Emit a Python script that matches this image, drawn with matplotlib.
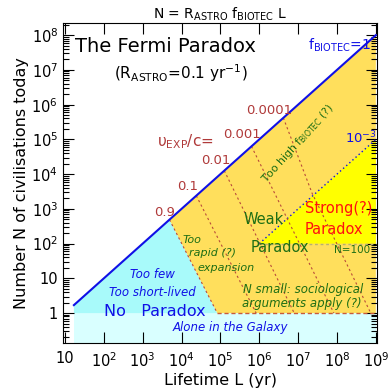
import numpy as np
import matplotlib.pyplot as plt
from matplotlib.ticker import LogLocator, NullFormatter

plt.rcParams['mathtext.default'] = 'regular'
plt.rcParams['font.family'] = 'DejaVu Sans'

# f_BIOTEC = 1 edge : N = 0.1 L
L_edge = [17.0, 1e9]
N_edge = [1.7, 1e8]

# v_exp/c contours (log10 L, log10 N)
v_labels = ['0.9', '0.1', '0.01', '0.001', '0.0001']
v_logL = [[3.69, 4.92], [4.38, 5.92], [5.10, 6.90], [5.80, 7.92], [6.62, 7.36, 8.87]]
v_logN = [[2.69, 0.0], [3.38, 0.0], [4.10, 0.0], [4.80, 0.0], [5.62, 3.45, 0.0]]

# f_BIOTEC = 1e-3 edge and N = 100 limit
L_weak = [1e6, 1e9]
N_weak = [1e2, 1e5]
N_min = 100

x_ticks = [1e1, 1e2, 1e3, 1e4, 1e5, 1e6, 1e7, 1e8, 1e9]
x_labels = ['10'] + ['$10^{%d}$' % k for k in range(2, 10)]
y_ticks = [1, 1e1, 1e2, 1e3, 1e4, 1e5, 1e6, 1e7, 1e8]
y_labels = ['1', '10'] + ['$10^{%d}$' % k for k in range(2, 9)]

c_cyan = '#A8FAFA'
c_pale = '#D9FFFF'
c_gold = '#FFDF5C'
c_yel = '#FFFF00'
c_red = '#B03A3A'
c_green = '#1E6E14'
c_blue = '#1010E6'

fig = plt.figure(figsize=(3.9, 3.91), dpi=100)
ax = fig.add_axes([63/390, 48/391, 314/390, 320/391])
ax.set_xscale('log')
ax.set_yscale('log')
ax.set_xlim(10**0.95, 10**9.03)
ax.set_ylim(10**-0.86, 10**8.35)

# regions
cL = 10**np.array(v_logL[0])
cN = 10**np.array(v_logN[0])
ax.fill_between([L_edge[0], L_edge[1]], ax.get_ylim()[0], 1, color=c_pale, lw=0, zorder=1)
ax.fill(np.r_[L_edge[0], L_edge[0], cL], np.r_[1, N_edge[0], cN], color=c_cyan, lw=0, zorder=1)
ax.fill(np.r_[cL, L_edge[1], L_edge[1]], np.r_[cN, 1, N_edge[1]], color=c_gold, lw=0, zorder=1)
ax.fill([L_weak[0], L_weak[1], L_weak[1]], [N_weak[0], N_weak[1], N_min], color=c_yel, lw=0, zorder=1)

ax.plot(L_edge, N_edge, color=c_blue, lw=1.5, zorder=4)
ax.plot(L_weak, N_weak, color=c_blue, lw=1, ls=(0, (1, 2)), zorder=3)
ax.plot([L_weak[0], L_edge[1]], [N_min, N_min], color='#B8B070', lw=1, ls=(0, (2, 2)), zorder=3)
ax.plot([cL[-1], L_edge[1]], [1, 1], color='#C85A3A', lw=1, ls=(0, (3, 2)), zorder=3)
for lx, ly in zip(v_logL, v_logN):
    ax.plot(10**np.array(lx), 10**np.array(ly), color='#B84A3A', lw=0.8, ls=(0, (2, 2.5)), zorder=3)

# axes dressing
ax.set_xticks(x_ticks)
ax.set_xticklabels(x_labels)
ax.set_yticks(y_ticks)
ax.set_yticklabels(y_labels)
ax.xaxis.set_minor_locator(LogLocator(base=10, subs=np.arange(2, 10)))
ax.yaxis.set_minor_locator(LogLocator(base=10, subs=np.arange(2, 10)))
ax.xaxis.set_minor_formatter(NullFormatter())
ax.yaxis.set_minor_formatter(NullFormatter())
ax.tick_params(which='both', direction='in', top=True, right=True, labelsize=10.5)
ax.tick_params(which='major', length=8, width=0.8)
ax.tick_params(which='minor', length=4, width=0.8)
ax.tick_params(axis='x', pad=6)
ax.set_xlabel('Lifetime L (yr)', fontsize=11.5, labelpad=2)
ax.set_ylabel('Number N of civilisations today', fontsize=11.5, labelpad=2)
ax.set_title(r'N = R$_{\mathrm{ASTRO}}$ f$_{\mathrm{BIOTEC}}$ L', fontsize=10, pad=3)

def px(x, y):
    return ((x - 63) / 314, (343 - y) / 320)

def txt(x, y, s, **kw):
    kw.setdefault('ha', 'center')
    kw.setdefault('va', 'center')
    ax.text(*px(x, y), s, transform=ax.transAxes, zorder=5, **kw)

txt(165, 47, 'The Fermi Paradox', fontsize=14)
txt(181, 73, r'(R$_{\mathrm{ASTRO}}$=0.1 yr$^{-1}$)', fontsize=11)
txt(371, 45, r'f$_{\mathrm{BIOTEC}}$=1', fontsize=10, color=c_blue, ha='right')
txt(185, 142, r'$\upsilon_{\mathrm{EXP}}$/c=', fontsize=11, color=c_red)
for s, (x, y) in zip(v_labels, [(165, 213), (188, 187), (216, 161), (242, 135), (269, 111)]):
    txt(x, y, s, fontsize=9.5, color=c_red)
txt(361, 138, '$10^{-3}$', fontsize=9.5, color=c_blue)
txt(298, 143, r'Too high f$_{\mathrm{BIOTEC}}$ (?)', fontsize=7.8, color=c_green, rotation=48)
txt(264, 220, 'Weak', fontsize=10.5, color=c_green)
txt(280, 248, 'Paradox', fontsize=10.5, color=c_green)
txt(339, 208, 'Strong(?)', fontsize=10.5, color='#FF1010')
txt(334, 230, 'Paradox', fontsize=10.5, color='#FF1010')
txt(352, 250, 'N=100', fontsize=7.5, color=c_green)
txt(183, 240, 'Too', fontsize=8, color=c_green, style='italic', ha='left')
txt(189, 253, 'rapid (?)', fontsize=8, color=c_green, style='italic', ha='left')
txt(197, 268, 'expansion', fontsize=8, color=c_green, style='italic', ha='left')
txt(152, 275, 'Too few', fontsize=8.5, color=c_blue, style='italic')
txt(152, 292, 'Too short-lived', fontsize=8.5, color=c_blue, style='italic')
txt(155, 311, 'No   Paradox', fontsize=11.5, color=c_blue)
txt(303, 289, 'N small: sociological', fontsize=8.5, color=c_green, style='italic')
txt(302, 303, 'arguments apply (?)', fontsize=8.5, color=c_green, style='italic')
txt(230, 327, 'Alone in the Galaxy', fontsize=8.5, color=c_blue, style='italic')

fig.savefig('out.png', dpi=100)
